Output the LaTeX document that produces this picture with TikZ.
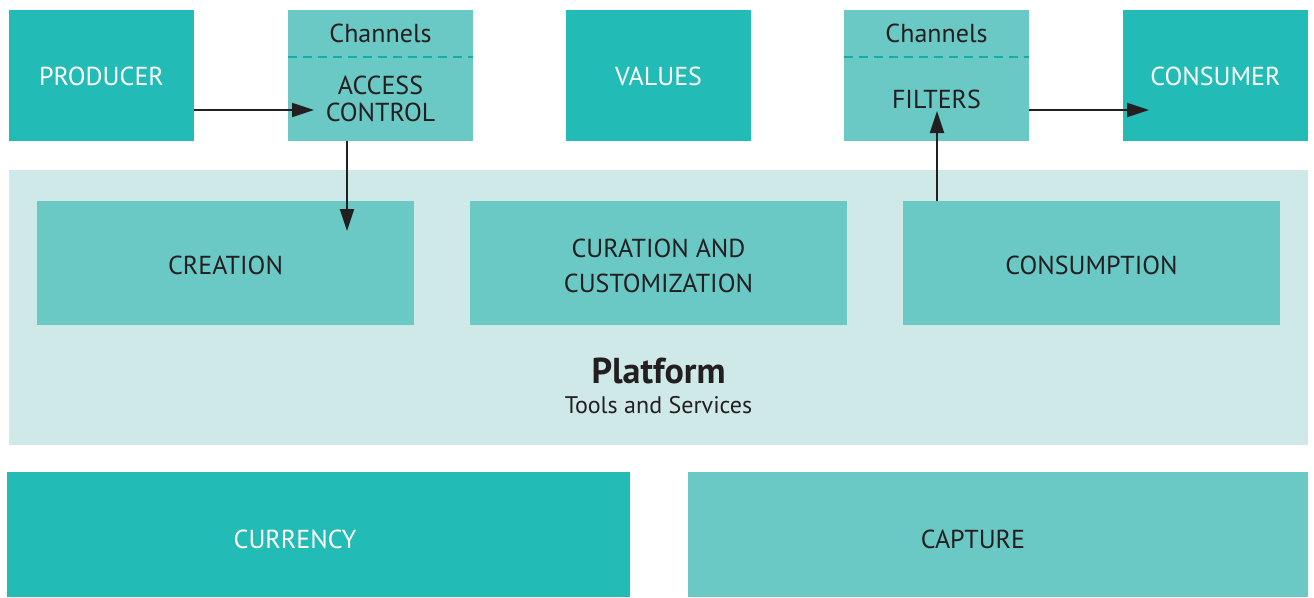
\documentclass[tikz,border=0pt]{standalone}
\usepackage{fontspec}
\setmainfont{PT Sans}
\usetikzlibrary{arrows.meta}
\definecolor{dteal}{HTML}{22BBB6}
\definecolor{lteal}{HTML}{6AC8C5}
\definecolor{pbg}{HTML}{CFE9E8}
\definecolor{dashcol}{HTML}{14B0A8}
\definecolor{ink}{HTML}{231F20}
\tikzset{
  dbox/.style={fill=dteal, draw=none, text=white, inner sep=0pt, align=center, font=\fontsize{26}{32}\selectfont},
  lbox/.style={fill=lteal, draw=none, text=ink, inner sep=0pt, align=center, font=\fontsize{26}{35}\selectfont},
  lbl/.style={text=ink, inner sep=0pt, align=center, font=\fontsize{26}{27}\selectfont},
  wlbl/.style={text=white, inner sep=0pt, align=center, font=\fontsize{26}{27}\selectfont},
  sepline/.style={draw=dashcol, line width=2.4pt, dash pattern=on 9pt off 6pt},
  conn/.style={draw=ink, line width=2.2pt, -{Triangle[length=22pt,width=14pt]}},
}
\begin{document}
\begin{tikzpicture}[x=1pt,y=-1pt]
\useasboundingbox (0,0) rectangle (1314,597);
% platform background
\fill[pbg] (9,170) rectangle (1308,445);
% top row
\node[dbox, minimum width=185pt, minimum height=131pt] (prod) at (101.5,75.5) {};
\node[wlbl] (prodtxt) at (101.5,76) {PRODUCER};
\node[lbox, minimum width=185pt, minimum height=131pt] (acc) at (380.5,75.5) {};
\node[lbl] (accch) at (380.5,33) {Channels};
\node[lbl] (acctxt) at (380.5,99) {ACCESS\\CONTROL};
\draw[sepline] (acc.west |- 0,57) -- (acc.east |- 0,57);
\node[dbox, minimum width=185pt, minimum height=131pt] (val) at (658.5,75.5) {};
\node[wlbl] (valtxt) at (658.5,76) {VALUES};
\node[lbox, minimum width=185pt, minimum height=131pt] (fil) at (936.5,75.5) {};
\node[lbl] (filch) at (936.5,33) {Channels};
\node[lbl] (filtxt) at (936.5,99.5) {FILTERS};
\draw[sepline] (fil.west |- 0,57) -- (fil.east |- 0,57);
\node[dbox, minimum width=185pt, minimum height=131pt] (cons) at (1215.5,75.5) {};
\node[wlbl] (constxt) at (1215.5,76) {CONSUMER};
% platform inner boxes
\node[lbox, minimum width=377pt, minimum height=124pt] (crea) at (225.5,263) {};
\node[lbl] (creatxt) at (225.5,265.5) {CREATION};
\node[lbox, minimum width=377pt, minimum height=124pt] (cura) at (658.5,263) {};
\node[lbl, font=\fontsize{26}{35}\selectfont] (curatxt) at (658.5,266) {CURATION AND\\CUSTOMIZATION};
\node[lbox, minimum width=377pt, minimum height=124pt] (cnsm) at (1091.5,263) {};
\node[lbl] (cnsmtxt) at (1091.5,265.5) {CONSUMPTION};
\node[lbl, font=\fontsize{36}{40}\selectfont\bfseries] (plat) at (658.5,371) {Platform};
\node[lbl, font=\fontsize{24}{28}\selectfont] (tools) at (658.5,405.5) {Tools and Services};
% bottom row
\node[dbox, minimum width=623pt, minimum height=125pt] (cur) at (318.5,534.5) {};
\node[wlbl] (curtxt) at (295,539) {CURRENCY};
\node[lbox, minimum width=620pt, minimum height=125pt] (cap) at (998,534.5) {};
\node[lbl] (captxt) at (973,539) {CAPTURE};
% connectors
\coordinate (a1e) at (314,110);
\draw[conn] (prod.east |- 0,110) -- (a1e);
\coordinate (a2e) at (347,231);
\draw[conn] (acc.south -| a2e) -- (a2e);
\coordinate (a3e) at (937,111);
\draw[conn] (cnsm.north -| a3e) -- (a3e);
\coordinate (a4e) at (1149,110);
\draw[conn] (fil.east |- 0,110) -- (a4e);
\end{tikzpicture}
\end{document}
